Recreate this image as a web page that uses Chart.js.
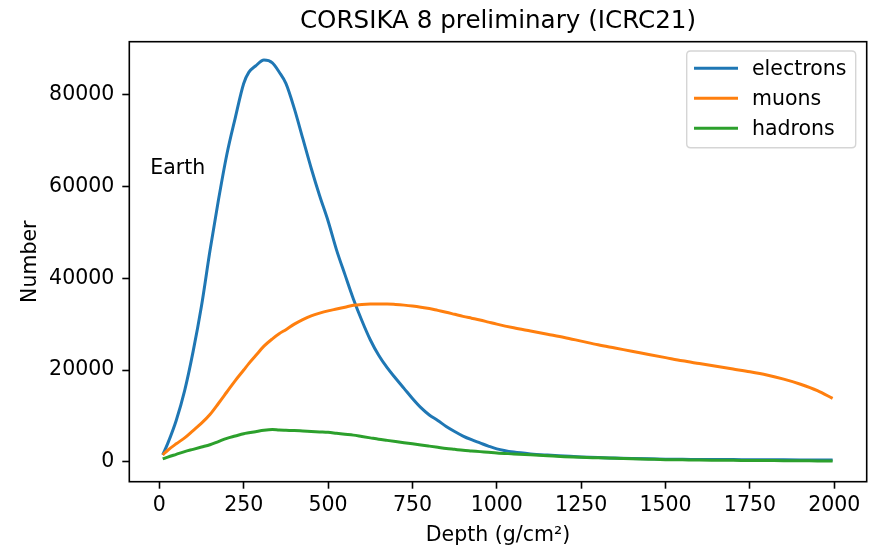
<!DOCTYPE html>
<html>
<head>
<meta charset="utf-8">
<script src="https://cdn.jsdelivr.net/npm/chart.js@4/dist/chart.umd.min.js"></script>
<style>
  html, body { margin: 0; padding: 0; background: #fff; }
  #wrap { width: 878px; height: 551px; }
</style>
</head>
<body>
<div id="wrap"><canvas id="c" width="878" height="551"></canvas></div>
<script>
const titleText = "CORSIKA 8 preliminary (ICRC21)";
const xLabel = "Depth (g/cm\u00B2)";
const yLabel = "Number";
const annotationText = "Earth";
const seriesNames = ["electrons", "muons", "hadrons"];
const seriesColors = ["#1f77b4", "#ff7f0e", "#2ca02c"];

const xTicks = [0, 250, 500, 750, 1000, 1250, 1500, 1750, 2000];
const yTicks = [0, 20000, 40000, 60000, 80000];

const depth = [10,25,50,75,100,125,150,175,200,225,250,265,285,310,335,355,375,400,425,450,475,500,525,550,575,600,625,650,675,700,725,750,775,800,825,850,875,900,925,950,975,1000,1050,1100,1150,1200,1250,1300,1350,1400,1450,1500,1550,1600,1650,1700,1750,1800,1850,1900,1950,1995];

const electrons = [1500,4000,9000,15500,24000,34000,46000,57000,67000,75000,82500,84900,86300,87600,87000,85000,82500,77000,70500,64000,58000,52500,46200,40800,35500,30800,26600,23200,20500,18200,16000,13800,11800,10200,9000,7700,6600,5600,4800,4100,3400,2800,2100,1700,1450,1250,1050,900,800,700,620,560,520,500,480,460,440,420,400,380,360,350];

const muons = [1500,2500,3900,5200,6800,8400,10300,12700,15200,17700,20000,21400,23100,25200,26800,27900,28800,30000,31000,31800,32400,32900,33300,33700,34100,34300,34400,34400,34400,34300,34150,33950,33700,33400,33000,32600,32150,31700,31300,30900,30450,30000,29200,28500,27800,27100,26300,25500,24800,24100,23400,22700,22000,21400,20800,20200,19600,18900,18000,16900,15500,13800];

const hadrons = [600,1000,1600,2200,2700,3200,3700,4400,5100,5600,6100,6300,6550,6850,7000,6900,6850,6800,6700,6600,6500,6400,6200,6000,5800,5500,5200,4900,4650,4400,4150,3900,3650,3400,3150,2900,2700,2500,2350,2200,2050,1900,1700,1500,1300,1100,950,850,750,650,550,450,400,350,320,300,270,250,220,200,180,150];

const seriesValues = [electrons, muons, hadrons];
const FONT = "'DejaVu Sans', sans-serif";

const datasets = seriesNames.map((name, i) => ({
  label: name,
  data: depth.map((d, j) => ({ x: d, y: seriesValues[i][j] })),
  borderColor: seriesColors[i],
  backgroundColor: seriesColors[i],
  borderWidth: 3,
  pointRadius: 0,
  fill: false,
  cubicInterpolationMode: 'monotone',
  order: seriesNames.length - i
}));

const decorPlugin = {
  id: 'decor',
  afterDraw(chart) {
    const ctx = chart.ctx;
    const a = chart.chartArea;
    const xs = chart.scales.x, ys = chart.scales.y;
    ctx.save();
    // frame
    ctx.strokeStyle = '#000';
    ctx.lineWidth = 1.6;
    ctx.strokeRect(a.left, a.top, a.right - a.left, a.bottom - a.top);
    // title
    ctx.fillStyle = '#000';
    ctx.font = "24.6px " + FONT;
    ctx.textAlign = 'center';
    ctx.textBaseline = 'alphabetic';
    ctx.fillText(titleText, (a.left + a.right) / 2, 28);
    // x label
    ctx.font = "20.5px " + FONT;
    ctx.fillText(xLabel, (a.left + a.right) / 2, 541);
    // y label
    ctx.save();
    ctx.translate(35.5, (a.top + a.bottom) / 2);
    ctx.rotate(-Math.PI / 2);
    ctx.fillText(yLabel, 0, 0);
    ctx.restore();
    // annotation
    ctx.textAlign = 'left';
    ctx.fillText(annotationText, xs.getPixelForValue(-27), ys.getPixelForValue(62800));
    // legend
    const lx = 686.7, ly = 51, lw = 169, lh = 96.7, r = 4;
    ctx.beginPath();
    ctx.moveTo(lx + r, ly);
    ctx.lineTo(lx + lw - r, ly);
    ctx.quadraticCurveTo(lx + lw, ly, lx + lw, ly + r);
    ctx.lineTo(lx + lw, ly + lh - r);
    ctx.quadraticCurveTo(lx + lw, ly + lh, lx + lw - r, ly + lh);
    ctx.lineTo(lx + r, ly + lh);
    ctx.quadraticCurveTo(lx, ly + lh, lx, ly + lh - r);
    ctx.lineTo(lx, ly + r);
    ctx.quadraticCurveTo(lx, ly, lx + r, ly);
    ctx.closePath();
    ctx.fillStyle = 'rgba(255,255,255,0.8)';
    ctx.fill();
    ctx.strokeStyle = '#d5d5d5';
    ctx.lineWidth = 1.4;
    ctx.stroke();
    seriesNames.forEach((name, i) => {
      const yy = 68.3 + i * 30;
      ctx.strokeStyle = seriesColors[i];
      ctx.lineWidth = 3;
      ctx.beginPath();
      ctx.moveTo(694, yy);
      ctx.lineTo(738, yy);
      ctx.stroke();
      ctx.fillStyle = '#000';
      ctx.font = "20.5px " + FONT;
      ctx.textAlign = 'left';
      ctx.textBaseline = 'alphabetic';
      ctx.fillText(name, 752, yy + 6.7);
    });
    ctx.restore();
  }
};

new Chart(document.getElementById('c'), {
  type: 'line',
  data: { datasets },
  options: {
    responsive: false,
    animation: false,
    events: [],
    layout: { padding: { top: 41.7, right: 11.3, left: 0, bottom: 0 } },
    plugins: {
      legend: { display: false },
      title: { display: false },
      tooltip: { enabled: false }
    },
    scales: {
      x: {
        type: 'linear',
        min: -89,
        max: 2096,
        afterFit(s) { s.height = 69.3; },
        afterBuildTicks(s) { s.ticks = xTicks.map(v => ({ value: v })); },
        grid: { drawOnChartArea: false, drawTicks: true, tickLength: 7, tickWidth: 1.6, tickColor: '#000' },
        border: { display: false },
        ticks: {
          color: '#000',
          font: { family: FONT, size: 20.5 },
          padding: 5,
          maxRotation: 0,
          autoSkip: false,
          callback: v => String(v)
        }
      },
      y: {
        type: 'linear',
        min: -4360,
        max: 91600,
        afterFit(s) { s.width = 129.3; },
        afterBuildTicks(s) { s.ticks = yTicks.map(v => ({ value: v })); },
        grid: { drawOnChartArea: false, drawTicks: true, tickLength: 7, tickWidth: 1.6, tickColor: '#000' },
        border: { display: false },
        ticks: {
          color: '#000',
          font: { family: FONT, size: 20.5 },
          padding: 8,
          autoSkip: false,
          callback: v => String(v)
        }
      }
    }
  },
  plugins: [decorPlugin]
});
</script>
</body>
</html>
